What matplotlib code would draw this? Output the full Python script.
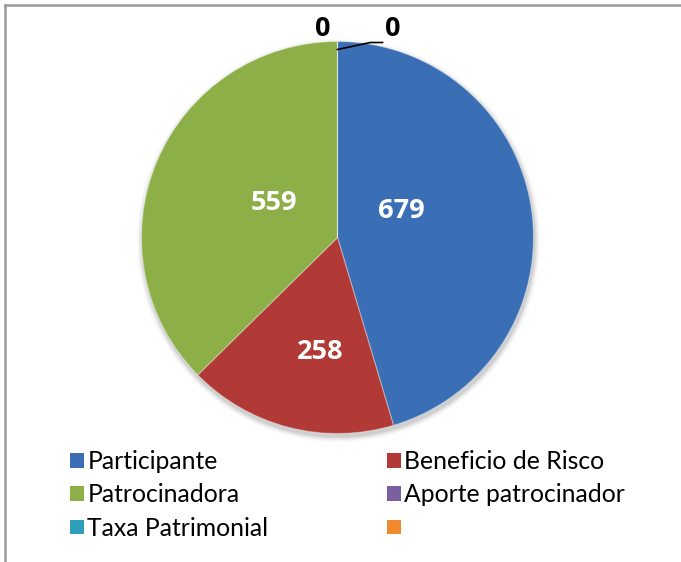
import matplotlib
matplotlib.use("Agg")
import matplotlib.pyplot as plt
from matplotlib.patches import Patch, Circle
import numpy as np

plt.rcParams['font.family'] = ['Lato', 'DejaVu Sans']
LBL_FONT = ['Open Sans', 'DejaVu Sans']

categories = ["Participante", "Beneficio de Risco", "Patrocinadora",
              "Aporte patrocinador", "Taxa Patrimonial", ""]
values = [679, 258, 559, 0, 0]
colors = ["#3A6FB5", "#B13A37", "#8CAF47", "#7B5FA0", "#2F9EBA", "#F08A2C"]

W, H = 681, 562
fig = plt.figure(figsize=(W / 100, H / 100), dpi=100)
ax = fig.add_axes([0, 0, 1, 1])

cx, cy, R = 337.5, H - 237.5, 196

# soft shadow
for i, a in enumerate(np.linspace(0.05, 0.01, 6)):
    ax.add_patch(Circle((cx + 1, cy - 3), R + 1 + i, color='black', alpha=a, lw=0, zorder=0))

wedges, _ = ax.pie(values, colors=colors[:len(values)], startangle=90, counterclock=False,
                   center=(cx, cy), radius=R, frame=True,
                   wedgeprops=dict(edgecolor=(1, 1, 1, 0.35), linewidth=0.8))
ax.set_xlim(0, W)
ax.set_ylim(0, H)
ax.set_aspect('equal')
ax.axis('off')

# value labels inside the non-zero slices
label_r = [0.35, 0.59, 0.37]
label_dang = [14, 6, -6]
for w, v, rf, da in zip(wedges[:3], values[:3], label_r, label_dang):
    ang = np.deg2rad((w.theta1 + w.theta2) / 2 + da)
    ax.text(cx + rf * R * np.cos(ang), cy + rf * R * np.sin(ang), str(v),
            ha='center', va='center', color='white', fontsize=19.5, fontweight='bold',
            family=LBL_FONT)

# zero labels at the top
top_x, top_y = cx, cy + R
ax.text(top_x - 15, top_y + 12, str(values[3]), ha='center', va='center',
        color='black', fontsize=19.5, fontweight='bold', family=LBL_FONT)
ax.text(top_x + 55, top_y + 13, str(values[4]), ha='center', va='center',
        color='black', fontsize=19.5, fontweight='bold', family=LBL_FONT)
ax.plot([top_x, top_x + 33, top_x + 45], [top_y - 8, top_y - 1, top_y - 1],
        color='black', lw=1.2)

# border (top and left)
fig.add_artist(plt.Line2D([5 / W, 5 / W], [0, 1 - 5 / H], color='#9a9a9a', lw=1.8))
fig.add_artist(plt.Line2D([5 / W, 1], [1 - 5 / H, 1 - 5 / H], color='#9a9a9a', lw=1.8))

handles = [Patch(facecolor=c, edgecolor='none') for c in colors]
col1 = [0, 2, 4]
col2 = [1, 3, 5]
common = dict(frameon=False, fontsize=17.8, handlelength=0.55, handleheight=0.55,
              handletextpad=0.15, labelspacing=0.42, borderpad=0, borderaxespad=0,
              loc='upper left')
leg1 = fig.legend([handles[i] for i in col1], [categories[i] for i in col1],
                  bbox_to_anchor=(70 / W, 1 - 450 / H), **common)
leg2 = fig.legend([handles[i] for i in col2], [categories[i] for i in col2],
                  bbox_to_anchor=(387 / W, 1 - 450 / H), **common)

fig.savefig("out.png", dpi=100, facecolor='white')
